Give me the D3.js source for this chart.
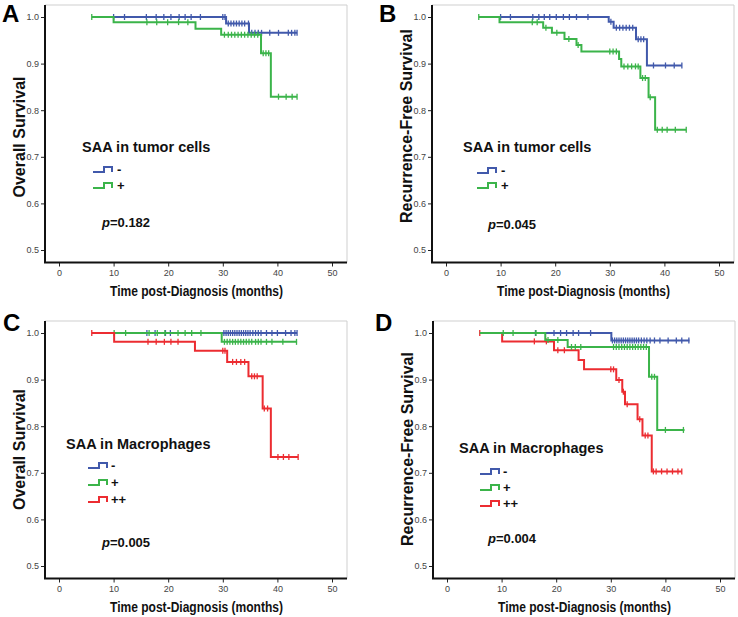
<!DOCTYPE html>
<html><head><meta charset="utf-8">
<script src="https://cdn.jsdelivr.net/npm/d3@7"></script>
<style>body{margin:0;background:#fff}svg{display:block}</style>
</head><body>
<svg id="c" width="738" height="617"></svg>
<script>
// ---------- data ----------
const xTicks = [0, 10, 20, 30, 40, 50];
const yTicks = [0.5, 0.6, 0.7, 0.8, 0.9, 1.0];
const xTitle = "Time post-Diagnosis (months)";
const panelLetters = ["A", "B", "C", "D"];
const yTitles = ["Overall Survival", "Recurrence-Free Survival", "Overall Survival", "Recurrence-Free Survival"];
const legendTitles = ["SAA in tumor cells", "SAA in tumor cells", "SAA in Macrophages", "SAA in Macrophages"];
const pValues = ["0.182", "0.045", "0.005", "0.004"];
const groupsTumor = ["-", "+"];
const groupsMacro = ["-", "+", "++"];

// Panel A: overall survival, SAA in tumor cells
const aNegTimes = [10, 30.6, 34.8, 43.6];
const aNegSurv = [1.0, 0.986, 0.966, 0.966];
const aNegCensor = [10, 12, 16, 17.8, 19.2, 20.5, 22, 23.1, 24.2, 25.9, 30, 30.4, 31, 31.5, 32, 32.5, 33, 33.5, 34, 34.7, 35.3, 35.9, 36.5, 37.1, 38.6, 40.2, 42, 42.6, 43.2, 43.6];
const aPosTimes = [6, 10, 25, 29.7, 37, 38.8, 43.6];
const aPosSurv = [1.0, 0.989, 0.975, 0.962, 0.922, 0.829, 0.829];
const aPosCensor = [6, 16.1, 17.9, 19.9, 21.9, 23.6, 30.3, 31, 31.6, 32.2, 32.8, 33.4, 34, 34.6, 35.2, 35.8, 36.4, 37.4, 37.9, 38.4, 40.2, 41.6, 42.7, 43.6];

// Panel B: recurrence-free survival, SAA in tumor cells
const bNegTimes = [10, 29.8, 30.7, 34.8, 36.8, 43.2];
const bNegSurv = [1.0, 0.99, 0.977, 0.952, 0.896, 0.896];
const bNegCensor = [10, 11.8, 15.9, 17, 18, 19, 20.2, 21.5, 22.6, 23.9, 26, 30.2, 31.2, 31.8, 32.4, 33, 33.6, 34.2, 35.2, 35.7, 36.2, 38, 40.2, 41.8, 43.2];
const bPosTimes = [6, 9.8, 17.8, 19.4, 21.7, 23.9, 24.8, 31.7, 32.1, 35.6, 37.1, 38.3, 44];
const bPosSurv = [1.0, 0.989, 0.977, 0.966, 0.953, 0.94, 0.926, 0.91, 0.894, 0.869, 0.828, 0.758, 0.758];
const bPosCensor = [6, 15.8, 16.7, 18.3, 20.3, 22.5, 24.2, 30, 30.6, 31.2, 32.6, 33.3, 34, 34.7, 35.2, 36, 36.5, 37.4, 38.7, 39.6, 40.5, 42, 44];

// Panel C: overall survival, SAA in macrophages
const cNegTimes = [16, 43.6];
const cNegSurv = [1.0, 1.0];
const cNegCensor = [16.1, 17.6, 19.5, 20.4, 30.2, 30.6, 31, 31.4, 31.8, 32.2, 32.6, 33, 33.4, 33.8, 34.2, 34.6, 35, 35.5, 36, 36.5, 37, 38, 39, 40, 41.5, 42.5, 43.2, 43.6];
const cPosTimes = [10, 29.8, 43.6];
const cPosSurv = [1.0, 0.981, 0.981];
const cPosCensor = [10.1, 12.2, 16.5, 18, 19.4, 21.8, 23.1, 24.3, 26, 30.3, 30.8, 31.3, 31.8, 32.3, 32.8, 33.3, 33.8, 34.3, 34.8, 35.3, 36, 36.5, 37, 38, 39, 41, 43.5];
const cPPTimes = [6, 10.1, 24.9, 30.8, 34.7, 37.3, 38.8, 43.8];
const cPPSurv = [1.0, 0.981, 0.962, 0.938, 0.907, 0.838, 0.734, 0.734];
const cPPCensor = [6, 16.3, 17.8, 19.3, 20.5, 21.8, 30, 30.4, 31.8, 32.5, 33.3, 34, 35.3, 35.8, 36.3, 37.6, 38.2, 40.1, 41.1, 42.1, 43.8];

// Panel D: recurrence-free survival, SAA in macrophages
const dNegTimes = [10, 30.1, 44.4];
const dNegSurv = [1.0, 0.984, 0.984];
const dNegCensor = [16.2, 19.6, 20.8, 21.9, 23.1, 24.1, 26.3, 30.3, 30.7, 31.1, 31.5, 31.9, 32.3, 32.7, 33.1, 33.5, 33.9, 34.3, 34.7, 35.1, 35.6, 36.1, 36.6, 37.2, 38, 39, 40.5, 42, 43, 44.3];
const dPosTimes = [6, 18, 22.1, 37, 38.5, 43.5];
const dPosSurv = [1.0, 0.985, 0.97, 0.906, 0.792, 0.792];
const dPosCensor = [10.3, 12.1, 16.3, 18.5, 20.3, 22.8, 23.5, 24.5, 30.5, 31, 31.5, 32, 32.5, 33, 33.5, 34, 34.5, 35, 35.5, 36, 36.5, 37.5, 38, 40, 43.3];
const dPPTimes = [6, 10.1, 19.6, 24.1, 25.1, 31, 32.1, 32.6, 34.9, 35.8, 37.5, 43];
const dPPSurv = [1.0, 0.982, 0.963, 0.942, 0.922, 0.899, 0.874, 0.847, 0.815, 0.78, 0.703, 0.703];
const dPPCensor = [6, 16, 18.2, 20.3, 21.5, 30, 30.5, 31.5, 32.3, 33, 35.3, 36.3, 36.8, 37.8, 38.3, 39.3, 40.3, 41.3, 42.3, 43];

// ---------- styling / layout ----------
const colNeg = "#4159ab", colPos = "#3bb44a", colPP = "#ec2c31";
const FONT = "'Liberation Sans', Arial, sans-serif";

const panels = [
  { ox: 0, oy: 0, letterX: 2, letterY: 22, yTitleC: 137,
    legX: 82, legY: 152, iconX: 93, iconY: [172, 188], txtX: 117, pX: 102, pY: 227,
    series: [
      { g: groupsTumor[0], c: colNeg, t: aNegTimes, s: aNegSurv, cs: aNegCensor },
      { g: groupsTumor[1], c: colPos, t: aPosTimes, s: aPosSurv, cs: aPosCensor } ],
    legendOrder: [0, 1] },
  { ox: 387, oy: 0, letterX: 379, letterY: 22, yTitleC: 126,
    legX: 76, legY: 152, iconX: 90, iconY: [173, 188], txtX: 114, pX: 101, pY: 229,
    series: [
      { g: groupsTumor[0], c: colNeg, t: bNegTimes, s: bNegSurv, cs: bNegCensor },
      { g: groupsTumor[1], c: colPos, t: bPosTimes, s: bPosSurv, cs: bPosCensor } ],
    legendOrder: [0, 1] },
  { ox: 0, oy: 316, letterX: 3, letterY: 331, yTitleC: 133.5,
    legX: 66, legY: 133, iconX: 88, iconY: [152, 169, 186], txtX: 111, pX: 102, pY: 231,
    series: [
      { g: groupsMacro[0], c: colNeg, t: cNegTimes, s: cNegSurv, cs: cNegCensor },
      { g: groupsMacro[1], c: colPos, t: cPosTimes, s: cPosSurv, cs: cPosCensor },
      { g: groupsMacro[2], c: colPP, t: cPPTimes, s: cPPSurv, cs: cPPCensor } ],
    legendOrder: [0, 1, 2] },
  { ox: 388, oy: 316, letterX: 375, letterY: 331, yTitleC: 133,
    legX: 71, legY: 137, iconX: 92, iconY: [158, 174, 190], txtX: 115, pX: 100, pY: 227,
    series: [
      { g: groupsMacro[0], c: colNeg, t: dNegTimes, s: dNegSurv, cs: dNegCensor },
      { g: groupsMacro[2], c: colPP, t: dPPTimes, s: dPPSurv, cs: dPPCensor },
      { g: groupsMacro[1], c: colPos, t: dPosTimes, s: dPosSurv, cs: dPosCensor } ],
    legendOrder: [0, 2, 1] }
];

const svg = d3.select("#c");
const L = 45, R = 347, T = 5, B = 262.5;

panels.forEach((p, i) => {
  const g = svg.append("g").attr("transform", `translate(${p.ox},${p.oy})`);
  const x = d3.scaleLinear().domain([0, 50]).range([59, 332]);
  const y = d3.scaleLinear().domain([0.5, 1.0]).range([250, 17]);

  // frame (gray top/right)
  g.append("path").attr("d", `M${L},${T}H${R}V${B}`).attr("fill", "none")
    .attr("stroke", "#cfcfcf").attr("stroke-width", 1);

  // axes
  const xAxis = g.append("g").attr("transform", `translate(0,${B})`)
    .call(d3.axisBottom(x).tickValues(xTicks).tickFormat(d3.format("d")).tickSizeOuter(0).tickSize(4).tickPadding(3));
  const yAxis = g.append("g").attr("transform", `translate(${L},0)`)
    .call(d3.axisLeft(y).tickValues(yTicks).tickFormat(d3.format(".1f")).tickSizeOuter(0).tickSize(4).tickPadding(2));
  [xAxis, yAxis].forEach(a => {
    a.select(".domain").remove();
    a.selectAll(".tick line").attr("stroke", "#222").attr("stroke-width", 1);
    a.selectAll(".tick text").attr("fill", "#444").style("font-family", FONT).style("font-size", "9px");
  });
  g.append("path").attr("d", `M${L},${T}V${B}H${R}`).attr("fill", "none")
    .attr("stroke", "#111").attr("stroke-width", 2);

  // titles
  g.append("text").attr("x", 110).attr("y", 296).attr("textLength", 173).attr("lengthAdjust", "spacingAndGlyphs")
    .style("font-family", FONT).style("font-weight", "bold").style("font-size", "14px").attr("fill", "#111").text(xTitle);
  g.append("text").attr("transform", `translate(25,${p.yTitleC}) rotate(-90)`).attr("text-anchor", "middle")
    .style("font-family", FONT).style("font-weight", "bold").style("font-size", "16px").attr("fill", "#111").text(yTitles[i]);

  // curves
  const line = d3.line().x(d => x(d[0])).y(d => y(d[1])).curve(d3.curveStepAfter);
  p.series.forEach(se => {
    const pts = se.t.map((t, k) => [t, se.s[k]]);
    g.append("path").attr("d", line(pts)).attr("fill", "none").attr("stroke", se.c).attr("stroke-width", 2);
    const survAt = t => { let v = se.s[0]; se.t.forEach((tt, k) => { if (tt <= t + 1e-9) v = se.s[k]; }); return v; };
    g.append("g").selectAll("line").data(se.cs).join("line")
      .attr("x1", d => x(d)).attr("x2", d => x(d))
      .attr("y1", d => y(survAt(d)) - 3).attr("y2", d => y(survAt(d)) + 3)
      .attr("stroke", se.c).attr("stroke-width", 1.3);
  });

  // legend
  g.append("text").attr("x", p.legX).attr("y", p.legY)
    .style("font-family", FONT).style("font-weight", "bold").style("font-size", "14.5px").attr("fill", "#111").text(legendTitles[i]);
  p.legendOrder.forEach((si, k) => {
    const se = p.series[si];
    const by = p.iconY[k], ix = p.iconX;
    g.append("path").attr("d", `M${ix},${by}H${ix + 11}V${by - 5}H${ix + 19}V${by}`)
      .attr("fill", "none").attr("stroke", se.c).attr("stroke-width", 2);
    g.append("text").attr("x", p.txtX).attr("y", by + 2)
      .style("font-family", FONT).style("font-weight", "bold").style("font-size", "13px").attr("fill", "#111").text(se.g);
  });

  // p-value
  const pt = g.append("text").attr("x", p.pX).attr("y", p.pY)
    .style("font-family", FONT).style("font-weight", "bold").style("font-size", "13px").attr("fill", "#111");
  pt.append("tspan").style("font-style", "italic").text("p");
  pt.append("tspan").text("=" + pValues[i]);

  // panel letter
  svg.append("text").attr("x", p.letterX).attr("y", p.letterY)
    .style("font-family", FONT).style("font-weight", "bold").style("font-size", "24px").attr("fill", "#000").text(panelLetters[i]);
});
</script>
</body></html>
